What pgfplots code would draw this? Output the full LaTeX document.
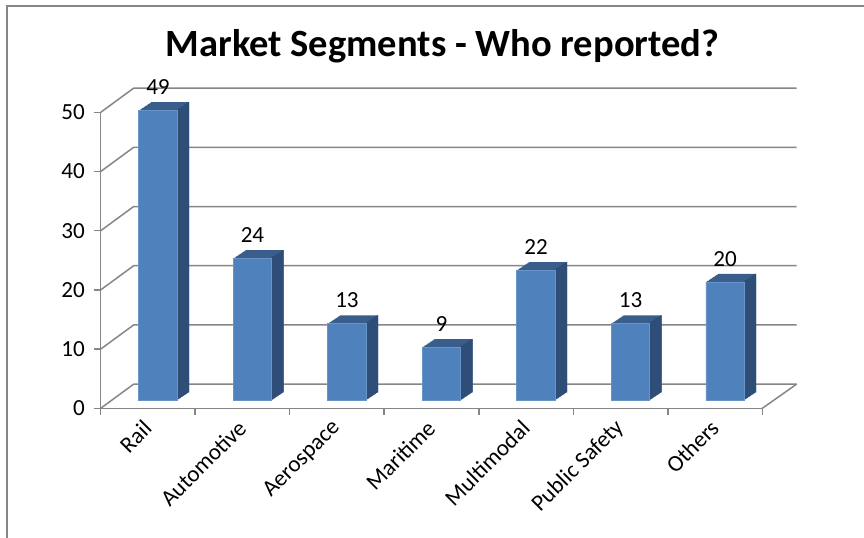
\documentclass[border=0pt]{standalone}
\usepackage{fontspec}
\setmainfont{Carlito}
\usepackage{pgfplots}
\pgfplotsset{compat=1.18}
\usepackage{pgfplotstable}
\definecolor{frontc}{RGB}{79,129,189}
\definecolor{sidec}{RGB}{46,78,120}
\definecolor{topc}{RGB}{58,94,140}
\definecolor{gridc}{RGB}{134,134,134}
\pgfplotstableread{
x y
0 49
1 24
2 13
3 9
4 22
5 13
6 20
}\data
\newcommand{\px}{0.75pt}
\begin{document}
\begin{tikzpicture}
\path[use as bounding box] (0,0) rectangle (864*\px,-538*\px);
\draw[gridc, line width=2*\px] (6.7*\px,-540*\px) -- (6.7*\px,-5.7*\px) -- (866*\px,-5.7*\px);
\node[font=\bfseries\fontsize{28.9}{32}\selectfont, anchor=center] at (442.5*\px,-46*\px) {Market Segments - Who reported?};
\begin{axis}[
  at={(100.7*\px,-408.3*\px)}, anchor=south west,
  scale only axis, width=496.2pt, height=222pt,
  xmin=-0.5, xmax=6.5, ymin=0, ymax=50,
  clip=false,
  axis x line*=bottom, axis y line*=left,
  axis line style={gridc, line width=1.5*\px, -},
  ytick={0,10,...,50},
  xtick={0,...,6},
  xticklabels={Rail,Automotive,Aerospace,Maritime,Multimodal,Public Safety,Others},
  minor xtick={-0.5,0.5,...,6.5},
  major x tick style={draw=none},
  tick align=outside,
  tick style={gridc, line width=1.5*\px},
  major tick length=6.7*\px, minor tick length=6.7*\px,
  tick label style={font=\fontsize{17.3}{20}\selectfont},
  /pgf/number format/assume math mode=true,
  yticklabel style={xshift=-4.5*\px},
  xticklabel style={xshift=3*\px, yshift=-6*\px, rotate=45, anchor=east},
]
\pgfplotsinvokeforeach{0,10,20,30,40,50}{
  \draw[gridc, line width=1.5*\px] (axis cs:-0.5,#1) -- ([shift={(33*\px,24.2*\px)}]axis cs:-0.5,#1) -- ([shift={(34.4*\px,24.2*\px)}]axis cs:6.5,#1);
}
\draw[gridc, line width=1.5*\px] (axis cs:6.5,0) -- ([shift={(34.4*\px,24.2*\px)}]axis cs:6.5,0);
% top faces (extrusion)
\pgfplotsinvokeforeach{12,11,...,1}{
  \addplot[ybar, bar width=28.8pt, bar shift=0pt, fill=topc, draw=none,
    xshift={(10+#1)*\px}, yshift={(8+#1*0.6667)*\px}] table[x=x,y=y] {\data};
}
% side faces
\pgfplotsinvokeforeach{12,11,...,1}{
  \addplot[ybar, bar width=1.2pt, bar shift=13.8pt, fill=sidec, draw=none,
    xshift={(10+#1)*\px}, yshift={(8+#1*0.6667)*\px}] table[x=x,y=y] {\data};
}
% front faces
\addplot[ybar, bar width=28.8pt, bar shift=0pt, fill=frontc, draw=frontc!85!white, line width=0.5pt,
  xshift=10*\px, yshift=8*\px,
  nodes near coords,
  every node near coord/.append style={font=\fontsize{17.3}{20}\selectfont, text=black, anchor=base, yshift=11.6pt}] table[x=x,y=y] {\data};
\end{axis}
\end{tikzpicture}
\end{document}
